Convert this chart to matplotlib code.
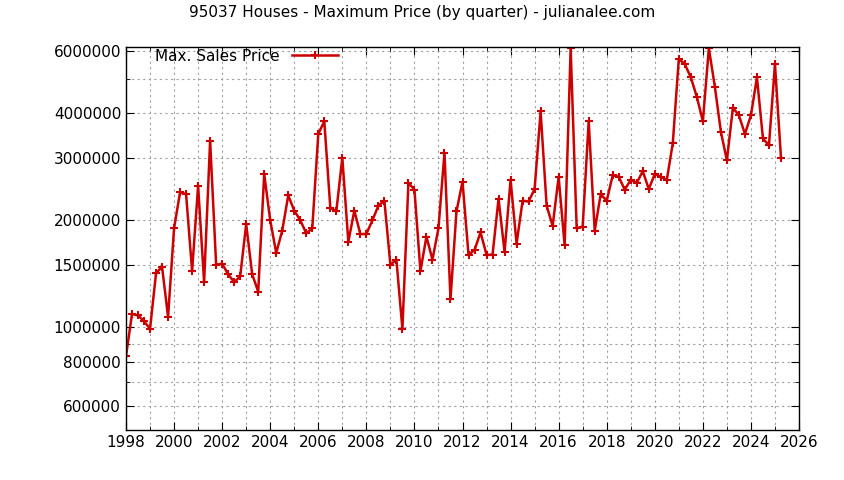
import matplotlib
matplotlib.use("Agg")
import matplotlib.pyplot as plt
import numpy as np
from matplotlib.ticker import FixedLocator, NullFormatter

start_year = 1998.0
prices = [830000, 1090000, 1080000, 1040000, 990000, 1420000, 1480000, 1070000,
          1900000, 2400000, 2370000, 1440000, 2500000, 1340000, 3350000, 1500000,
          1510000, 1410000, 1340000, 1390000, 1950000, 1410000, 1260000, 2700000,
          2000000, 1620000, 1870000, 2350000, 2130000, 2000000, 1840000, 1900000,
          3500000, 3800000, 2170000, 2120000, 3000000, 1740000, 2130000, 1830000,
          1830000, 2000000, 2200000, 2270000, 1500000, 1550000, 990000, 2550000,
          2440000, 1440000, 1800000, 1550000, 1900000, 3100000, 1200000, 2120000,
          2570000, 1600000, 1650000, 1850000, 1600000, 1600000, 2300000, 1630000,
          2600000, 1720000, 2270000, 2260000, 2450000, 4050000, 2200000, 1930000,
          2650000, 1700000, 6100000, 1900000, 1920000, 3800000, 1870000, 2370000,
          2270000, 2680000, 2650000, 2440000, 2600000, 2550000, 2750000, 2450000,
          2700000, 2650000, 2600000, 3300000, 5700000, 5500000, 5050000, 4450000,
          3800000, 6100000, 4750000, 3550000, 2950000, 4150000, 3950000, 3500000,
          3950000, 5050000, 3400000, 3250000, 5500000, 3000000]
years = start_year + 0.25 * np.arange(len(prices))

ytick_vals = [600000, 800000, 1000000, 1500000, 2000000, 3000000, 4000000, 6000000]
yminor_vals = [700000, 900000, 5000000]
xtick_vals = list(range(1998, 2027, 2))

fig = plt.figure(figsize=(8.44, 4.8), dpi=100)
ax = fig.add_axes([126/844, 50/480, 673/844, 383/480])
ax.plot(years, prices, color="#cc0000", lw=1.8, marker="+", ms=6, mew=1.5,
        label="Max. Sales Price", clip_on=True)
ax.set_yscale("log")
ax.set_ylim(514000, 6150000)
ax.set_xlim(1998, 2026)
ax.yaxis.set_major_locator(FixedLocator(ytick_vals))
ax.yaxis.set_minor_locator(FixedLocator(yminor_vals))
ax.yaxis.set_minor_formatter(NullFormatter())
ax.set_yticklabels([str(v) for v in ytick_vals])
ax.xaxis.set_major_locator(FixedLocator(xtick_vals))
ax.xaxis.set_minor_locator(FixedLocator(list(range(1999, 2026, 2))))
ax.grid(True, which="both", color="#a0a0a0", ls=(0, (2, 3)), lw=0.8)
ax.tick_params(which="both", direction="in", top=True, right=True, labelsize=11)
ax.tick_params(which="major", length=6)
ax.tick_params(which="minor", length=3)
for s in ax.spines.values():
    s.set_linewidth(1)
ax.legend(loc="upper left", frameon=False, fontsize=11, markerfirst=False,
          handlelength=3, bbox_to_anchor=(0.03, 1.02), borderaxespad=0.2)
fig.text(0.5, 1 - 12/480, "95037 Houses - Maximum Price (by quarter) - julianalee.com",
         ha="center", va="center", fontsize=11)
fig.savefig("out.png", dpi=100)
